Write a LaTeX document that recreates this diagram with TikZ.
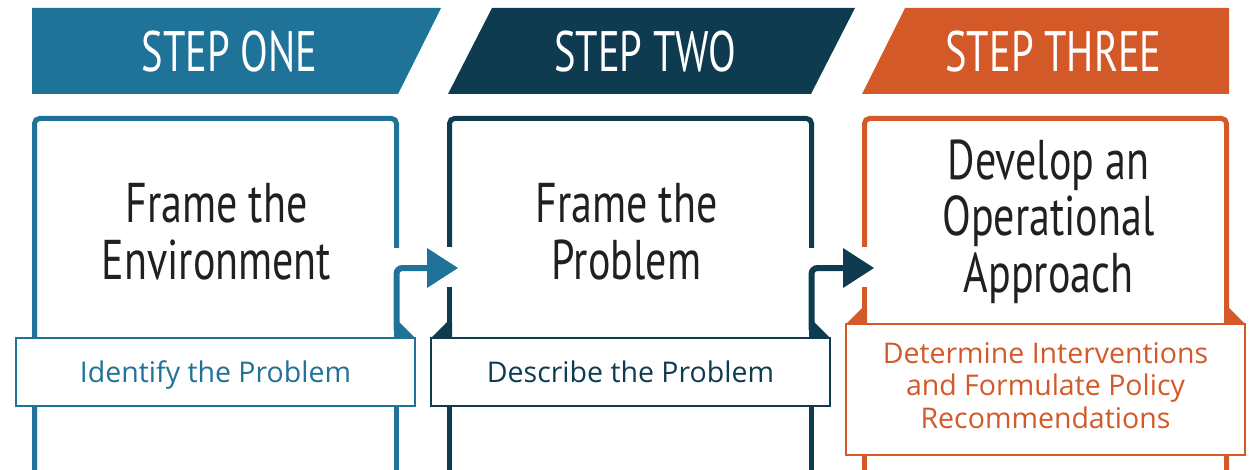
\documentclass[tikz,border=0pt]{standalone}
\usepackage{fontspec}
\setmainfont{Open Sans}
\newfontfamily\condfont[FakeStretch=0.75]{PT Sans}
\newfontfamily\bannerfont[FakeStretch=0.71]{PT Sans}
\newfontfamily\subfont{Open Sans}
\definecolor{cblue}{HTML}{1F7398}
\definecolor{cnavy}{HTML}{0F3B51}
\definecolor{corange}{HTML}{D35A28}
\definecolor{ctext}{HTML}{231F20}
\tikzset{
  banner/.style={fill=#1, draw=none},
  bannertext/.style={text=white, font=\bannerfont\fontsize{57}{60}\selectfont, anchor=base, inner sep=0pt},
  frameline/.style={draw=#1, line width=5pt, rounded corners=5pt},
  plainline/.style={draw=#1, line width=5pt},
  connector/.style={draw=#1, line width=6pt, rounded corners=6pt},
  headtip/.style={fill=#1, draw=none},
  subbox/.style={draw=#1, line width=1.5pt, fill=white},
  titletext/.style={text=ctext, font=\condfont\fontsize{56}{56.5}\selectfont, align=center, anchor=base, inner sep=0pt},
  subtext/.style={text=#1, font=\subfont\fontsize{28.5}{32.5}\selectfont, align=center, anchor=base, inner sep=0pt},
}
\begin{document}
\begin{tikzpicture}[x=1pt,y=-1pt]
\useasboundingbox (0,0) rectangle (1249,470);
% banners
\fill[banner=cblue] (32,8) -- (441,8) -- (398,94) -- (32,94) -- cycle;
\fill[banner=cnavy] (492,8) -- (855,8) -- (811,94) -- (448,94) -- cycle;
\fill[banner=corange] (905,8) -- (1229,8) -- (1229,94) -- (862,94) -- cycle;
\node[bannertext] (s1) at (229.5,72) {STEP ONE};
\node[bannertext] (s2) at (645,72) {STEP TWO};
\node[bannertext] (s3) at (1053.5,72) {STEP THREE};
% box 1
\draw[frameline=cblue] (34.5,470) -- (34.5,118.5) -- (396.5,118.5) -- (396.5,248);
\draw[plainline=cblue] (396.5,406) -- (396.5,470);
% box 2
\draw[frameline=cnavy] (449.5,247) -- (449.5,118.5) -- (811.5,118.5) -- (811.5,248);
\draw[plainline=cnavy] (449.5,287) -- (449.5,470);
\draw[plainline=cnavy] (811.5,406) -- (811.5,470);
% box 3
\draw[frameline=corange] (864.5,247) -- (864.5,118.5) -- (1226.5,118.5) -- (1226.5,470);
\draw[plainline=corange] (864.5,287) -- (864.5,470);
% subtitle boxes
\node[subbox=cblue, minimum width=399pt, minimum height=68pt, inner sep=0pt] (b1) at (215.5,372) {};
\node[subbox=cnavy, minimum width=399pt, minimum height=68pt, inner sep=0pt] (b2) at (630.5,372) {};
\node[subbox=corange, minimum width=399pt, minimum height=131pt, inner sep=0pt] (b3) at (1045.5,389.5) {};
% triangles
\fill[cblue] (394,322) -- (399,322) -- (415,338) -- (394,338) -- cycle;
\fill[cnavy] (452,322) -- (447,322) -- (431,338) -- (452,338) -- cycle;
\fill[cnavy] (809,322) -- (814,322) -- (830,338) -- (809,338) -- cycle;
\fill[corange] (867,308) -- (862,308) -- (846,324) -- (867,324) -- cycle;
\fill[corange] (1224,308) -- (1229,308) -- (1245,324) -- (1224,324) -- cycle;
% arrows
\coordinate (c1) at (427,268);
\coordinate (c2) at (843,268);
\draw[connector=cblue] (396.5,330) -- (396.5,268) -- (c1);
\fill[headtip=cblue] (427,248) -- (458,268) -- (427,288) -- cycle;
\draw[connector=cnavy] (811.5,330) -- (811.5,268) -- (c2);
\fill[headtip=cnavy] (843,248) -- (874,268) -- (843,288) -- cycle;
% titles
\node[titletext] (t1) at (216.5,279) {Frame the\\Environment};
\node[titletext] (t2) at (626.5,279) {Frame the\\Problem};
\node[titletext] (t3) at (1048.5,292) {Develop an\\Operational\\Approach};
% subtitles
\node[subtext=cblue] (u1) at (215.5,382.5) {Identify the Problem};
\node[subtext=cnavy] (u2) at (630.5,382.5) {Describe the Problem};
\node[subtext=corange] (u3) at (1045.5,428) {Determine Interventions\\and Formulate Policy\\Recommendations};
\end{tikzpicture}
\end{document}
